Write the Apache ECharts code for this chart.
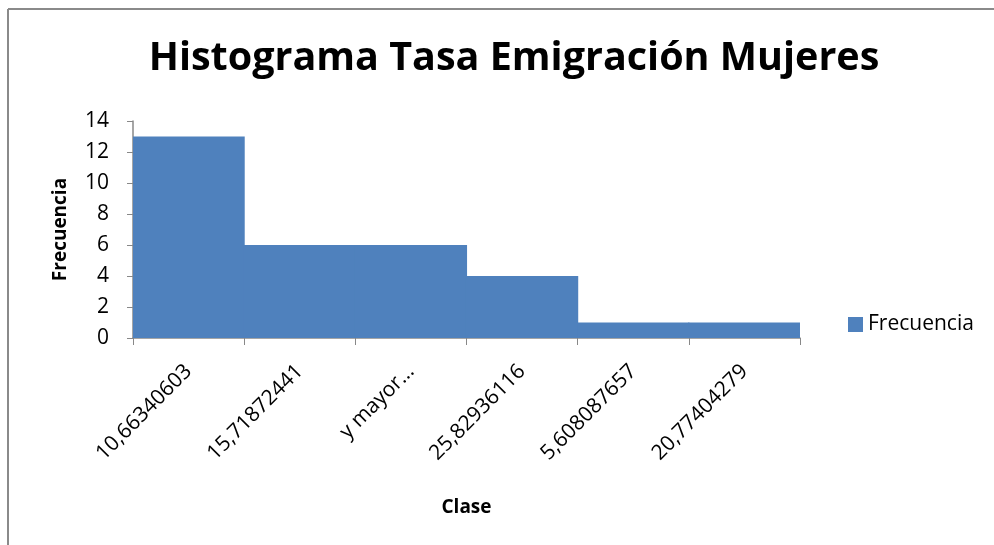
<!DOCTYPE html>
<html lang="es">
<head>
    <meta charset="utf-8">
    <title>Histograma Tasa Emigración Mujeres</title>
    <script src="https://cdn.jsdelivr.net/npm/echarts@6.0.0/dist/echarts.min.js"></script>
    <style>
        html, body { margin: 0; padding: 0; background: #fff; }
        #main { width: 994px; height: 545px; }
    </style>
</head>
<body>
<div id="main"></div>
<script type="text/javascript">
    // datos del histograma
    var clases = ['10,66340603', '15,71872441', 'y mayor...', '25,82936116', '5,608087657', '20,77404279'];
    var frecuencia = [13, 6, 6, 4, 1, 1];
    var yTicks = [0, 2, 4, 6, 8, 10, 12, 14];

    var font = '"Open Sans", "Liberation Sans", sans-serif';
    var myChart = echarts.init(document.getElementById('main'));

    var option = {
        animation: false,
        title: {
            text: 'Histograma Tasa Emigración Mujeres',
            left: 509,
            textAlign: 'center',
            top: 34,
            textStyle: { fontFamily: font, fontWeight: 'bold', fontSize: 39.5, color: '#000' }
        },
        legend: {
            data: ['Frecuencia'],
            orient: 'vertical',
            left: 843,
            top: 309,
            icon: 'rect',
            itemWidth: 15,
            itemHeight: 15,
            itemGap: 6,
            textStyle: { fontFamily: font, fontSize: 21, color: '#000' }
        },
        grid: { left: 133, right: 194, top: 121, bottom: 207 },
        xAxis: {
            type: 'category',
            data: clases,
            name: 'Clase',
            nameLocation: 'middle',
            nameGap: 160,
            nameTextStyle: { fontFamily: font, fontWeight: 'bold', fontSize: 19, color: '#000' },
            axisLine: { lineStyle: { color: '#888', width: 1.5 } },
            axisTick: { show: true, alignWithLabel: false, length: 7, lineStyle: { color: '#888' } },
            axisLabel: { rotate: 45, fontFamily: font, fontSize: 21, color: '#000', margin: 30 }
        },
        yAxis: {
            type: 'value',
            min: 0,
            max: yTicks[yTicks.length - 1],
            interval: yTicks[1] - yTicks[0],
            name: 'Frecuencia',
            nameLocation: 'middle',
            nameGap: 63,
            nameTextStyle: { fontFamily: font, fontWeight: 'bold', fontSize: 19, color: '#000' },
            splitLine: { show: false },
            axisLine: { show: true, lineStyle: { color: '#888', width: 1.5 } },
            axisTick: { show: true, length: 6, lineStyle: { color: '#888' } },
            axisLabel: { fontFamily: font, fontSize: 21, color: '#000', margin: 24 }
        },
        series: [
            {
                name: 'Frecuencia',
                type: 'bar',
                data: frecuencia,
                barWidth: '101%',
                barCategoryGap: '0%',
                itemStyle: { color: '#4F81BD' }
            }
        ],
        graphic: [
            { type: 'line', shape: { x1: 8, y1: 9, x2: 994, y2: 9 }, style: { stroke: '#8a8a8a', lineWidth: 2 } },
            { type: 'line', shape: { x1: 8, y1: 9, x2: 8, y2: 545 }, style: { stroke: '#8a8a8a', lineWidth: 2 } }
        ]
    };

    myChart.setOption(option);
</script>
</body>
</html>
